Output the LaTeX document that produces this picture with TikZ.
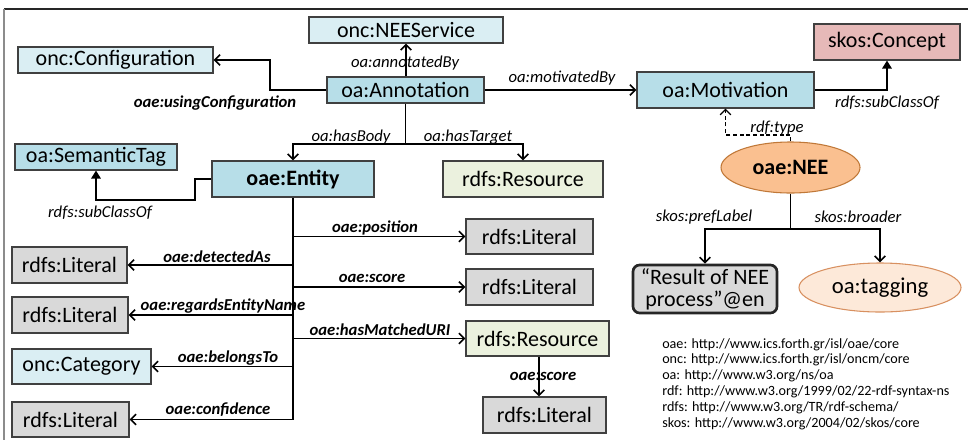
\documentclass[tikz,border=0pt]{standalone}
\usepackage{fontspec}
\setmainfont{Carlito}
\usetikzlibrary{arrows.meta,shapes.geometric,calc}

\definecolor{lightblue}{HTML}{DAEEF3}
\definecolor{midblue}{HTML}{B7DEE8}
\definecolor{pinkfill}{HTML}{E6B9B8}
\definecolor{resfill}{HTML}{EBF1DE}
\definecolor{litfill}{HTML}{D9D9D9}
\definecolor{neefill}{HTML}{FAC090}
\definecolor{neeline}{HTML}{C07838}
\definecolor{tagfill}{HTML}{FDE9D9}
\definecolor{tagline}{HTML}{D89060}
\definecolor{boxline}{HTML}{404040}

\tikzset{
  sz/.style 2 args={minimum width=#1*0.75pt, minimum height=#2*0.75pt},
  cls/.style={draw=boxline, line width=0.8pt, inner sep=0pt, font=\fontsize{16.5}{18}\selectfont},
  lb/.style={cls, fill=lightblue},
  mb/.style={cls, fill=midblue},
  pk/.style={cls, fill=pinkfill},
  rs/.style={cls, fill=resfill},
  lt/.style={cls, fill=litfill},
  prop/.style={inner sep=0pt, font=\fontsize{12.5}{14}\selectfont\itshape},
  bprop/.style={inner sep=0pt, font=\fontsize{12.5}{14}\selectfont\bfseries\itshape},
  link/.style={line width=1.4pt, -{Straight Barb[length=4pt,width=8pt,line width=1.2pt]}},
  plain/.style={line width=1.4pt},
  sub/.style={line width=1.4pt, -{Triangle[length=6pt,width=7pt]}},
}

\begin{document}
\begin{tikzpicture}[x=0.75pt, y=-0.75pt]
\useasboundingbox (0,0) rectangle (968,440);

% partial frame
\draw[line width=1pt, black!85] (4,9) -- (968,9);
\draw[line width=1.2pt, black!45] (4,9) -- (4,440);

% classes
\node[lb, sz={195}{26}] (conf) at (115.5,60) {onc:Configuration};
\node[lb, sz={194}{26}] (svc)  at (406,30)   {onc:NEEService};
\node[mb, sz={157}{26}] (ann)  at (405.5,90) {oa:Annotation};
\node[mb, sz={177}{36}] (mot)  at (725.5,90) {oa:Motivation};
\node[pk, sz={146}{36}] (con)  at (887,42)   {skos:Concept};
\node[mb, sz={162}{26}] (sem)  at (96,157)   {oa:SemanticTag};
\node[mb, sz={162}{36}, font=\fontsize{16.5}{18}\selectfont\bfseries] (ent) at (293,179) {oae:Entity};
\node[rs, sz={160}{36}] (res1) at (523,179)  {rdfs:Resource};

\node[lt, sz={127}{35}] (litpos) at (529.5,236.5) {rdfs:Literal};
\node[lt, sz={127}{36}] (litsc)  at (529.5,287)   {rdfs:Literal};
\node[rs, sz={143}{35}] (res2)   at (537.5,338.5) {rdfs:Resource};
\node[lt, sz={123}{36}] (litbot) at (544.5,415)   {rdfs:Literal};

\node[lt, sz={115}{36}] (lit1) at (69.5,265)   {rdfs:Literal};
\node[lt, sz={116}{36}] (lit2) at (70,315)     {rdfs:Literal};
\node[lb, sz={139}{35}] (cat)  at (81.5,366.5) {onc:Category};
\node[lt, sz={117}{35}] (lit4) at (70.5,419.5) {rdfs:Literal};

% NEE individual and its neighbours
\node[ellipse, draw=neeline, fill=neefill, line width=0.8pt, inner sep=0pt, sz={139}{51},
      font=\fontsize{16.5}{18}\selectfont\bfseries] (nee) at (790.5,167.5) {oae:NEE};
\node[draw=black!85, fill=litfill, rounded corners=5pt, line width=2pt, inner sep=0pt, sz={144}{48},
      align=center, font=\fontsize{16.5}{16.5}\selectfont] (pref) at (705,289) {“Result of NEE\\process”@en};
\node[ellipse, draw=tagline, fill=tagfill, line width=0.8pt, inner sep=0pt, sz={162}{49},
      font=\fontsize{17}{18}\selectfont] (tag) at (880,287.5) {oa:tagging};

% annotation links
\draw[link] (ann.west) -- (270,90) |- (conf.east);
\draw[link] (ann.north -| svc.south) -- (svc.south);
\draw[link] (ann.east) -- (mot.west);
\draw[sub] (mot.east) -| (con.south);
\draw[plain] (ann.south) -- (405.5,144) coordinate (hb);
\draw[link] (hb) -| (ent.north);
\draw[link] (hb) -| (res1.north);

% entity links
\draw[sub] (ent.west) -- (195,179) -- (195,200) -| (sem.south);
\draw[plain] (ent.south) -- (ent.south |- lit4.east);
\draw[link] (ent.south |- litpos.west) -- (litpos.west);
\draw[link] (ent.south |- litsc.west) -- (litsc.west);
\draw[link] (ent.south |- res2.west) -- (res2.west);
\draw[link] (ent.south |- lit1.east) -- (lit1.east);
\draw[link] (ent.south |- lit2.east) -- (lit2.east);
\draw[link] (ent.south |- cat.east) -- (cat.east);
\draw[link] (ent.south |- lit4.east) -- (lit4.east);
\draw[link] (539,0 |- res2.south) -- (539,0 |- litbot.north);

% NEE links
\draw[line width=1.1pt, dash pattern=on 3pt off 2pt, -{Straight Barb[length=4pt,width=8pt,line width=1pt]}]
  (nee.north) -- (790.5,135) -| (mot.south);
\draw[plain] (nee.south) -- (790.5,229) coordinate (nb);
\draw[link] (nb) -| (pref.north);
\draw[link] (nb) -| (tag.north);

% property labels
\node[prop]  (l-annby)  at (405,63)  {oa:annotatedBy};
\node[bprop] (l-conf)   at (215,103) {oae:usingConfiguration};
\node[prop]  (l-motby)  at (562,78)  {oa:motivatedBy};
\node[prop]  (l-subc1)  at (887,103) {rdfs:subClassOf};
\node[prop]  (l-body)   at (351,137) {oa:hasBody};
\node[prop]  (l-target) at (468,137) {oa:hasTarget};
\node[prop]  (l-subc2)  at (100,213) {rdfs:subClassOf};
\node[prop]  (l-type)   at (777,128) {rdf:type};
\node[prop]  (l-pref)   at (704,217) {skos:prefLabel};
\node[prop]  (l-broad)  at (858,217) {skos:broader};

\node[bprop] (l-pos)    at (375,228) {oae:position};
\node[bprop] (l-score)  at (372,278) {oae:score};
\node[bprop] (l-match)  at (380,330) {oae:hasMatchedURI};
\node[bprop] (l-score2) at (543,376) {oae:score};
\node[bprop] (l-det)    at (217,257) {oae:detectedAs};
\node[bprop] (l-regard) at (223,306) {oae:regardsEntityName};
\node[bprop] (l-belong) at (228,358) {oae:belongsTo};
\node[bprop] (l-confid) at (218,410) {oae:confidence};

% namespace prefixes
\node[anchor=north west, inner sep=0pt, align=left, font=\fontsize{10.6}{11.9}\selectfont] (ns) at (662,338) {%
oae: http://www.ics.forth.gr/isl/oae/core\\
onc: http://www.ics.forth.gr/isl/oncm/core\\
oa: http://www.w3.org/ns/oa\\
rdf: http://www.w3.org/1999/02/22-rdf-syntax-ns\\
rdfs: http://www.w3.org/TR/rdf-schema/\\
skos: http://www.w3.org/2004/02/skos/core};
\end{tikzpicture}
\end{document}
